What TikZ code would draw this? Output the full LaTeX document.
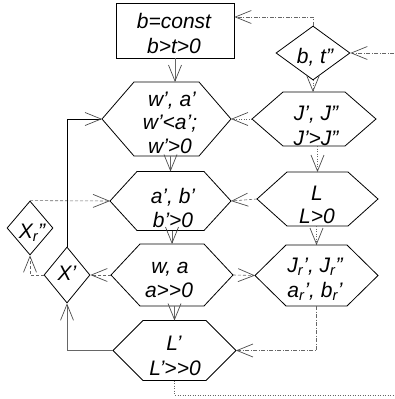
\documentclass[tikz,border=0pt]{standalone}
\usepackage{fontspec}
\setmainfont{Liberation Sans}
\usetikzlibrary{arrows.meta,calc,shapes.geometric}
\newcommand\pq{\symbol{39}}
\newcommand\dq{\symbol{34}}
\newcommand\gt{\symbol{62}}
\newcommand\sr{\textsubscript{r}}
\tikzset{
 shp/.style={draw=black, line width=0.8pt},
 dia/.style={shape=diamond, draw=black, line width=0.8pt, inner sep=0pt},
 lbl/.style={anchor=base, inner sep=0pt, font=\fontsize{21}{24}\selectfont\itshape},
 conn/.style={draw=black!60, line width=0.6pt, -{Straight Barb[length=16pt,width=13pt,line width=0.7pt,color=black!70]}},
 dashc/.style={conn, dash pattern=on 3pt off 2pt},
 dotc/.style={conn, dash pattern=on 1pt off 1.5pt},
 ddc/.style={conn, dash pattern=on 4pt off 1.5pt on 1pt off 1.5pt},
}
\newcommand\myhex[6]{%
 \draw[shp] (#2,#3) ++(-#4,0) coordinate (#1-w) -- ++(#6,-#5) -- ++({2*#4-2*#6},0) -- ++(#6,#5) coordinate (#1-e) -- ++(-#6,#5) -- ++({-2*#4+2*#6},0) -- cycle;
 \coordinate (#1-n) at (#2,#3-#5);
 \coordinate (#1-s) at (#2,#3+#5);
}
\begin{document}
\begin{tikzpicture}[x=1pt,y=-1pt]
\useasboundingbox (0,0) rectangle (394,399);
% box
\node[shp, minimum width=118pt, minimum height=55pt, inner sep=0pt] (box) at (175,30.5) {};
\node[lbl] (t1) at (174,28) {b=const};
\node[lbl] (t2) at (174,53) {b\gt t\gt 0};
% hexagons
\myhex{h1}{166.5}{119}{64.5}{37}{32}
\myhex{h2}{170.5}{201}{60.5}{29.5}{27}
\myhex{h3}{172}{275}{61}{31}{29}
\myhex{h4}{174.5}{350.5}{61.5}{30}{30}
\myhex{hj}{314}{119}{62}{27}{31}
\myhex{hl}{317.5}{199}{60.5}{27}{30}
\myhex{hr}{316.5}{275.5}{61.5}{30.5}{31}
% diamonds
\node[dia, minimum width=74pt, minimum height=54pt] (bt) at (313,53) {};
\node[dia, minimum width=46pt, minimum height=56pt] (xp) at (67,275) {};
\node[dia, minimum width=46pt, minimum height=54pt] (xr) at (30,228) {};
% texts
\node[lbl] (h1a) at (172,106) {w\pq, a\pq};
\node[lbl] (h1b) at (170,129) {w\pq<a\pq;};
\node[lbl] (h1c) at (170,153) {w\pq\gt 0};
\node[lbl] (h2a) at (173,203) {a\pq, b\pq};
\node[lbl] (h2b) at (173,227) {b\pq\gt 0};
\node[lbl] (h3a) at (170,273) {w, a};
\node[lbl] (h3b) at (169,297) {a\gt\gt 0};
\node[lbl] (h4a) at (174,350) {L\pq};
\node[lbl] (h4b) at (175,375) {L\pq\gt\gt 0};
\node[lbl] (hja) at (316,120) {J\pq, J\dq};
\node[lbl] (hjb) at (316,145) {J\pq\gt J\dq};
\node[lbl] (hla) at (317,200) {L};
\node[lbl] (hlb) at (317,223) {L\gt 0};
\node[lbl] (hra) at (315,272) {J\sr\pq, J\sr\dq};
\node[lbl] (hrb) at (315,297) {a\sr\pq, b\sr\pq};
\node[lbl] (btt) at (315,63) {b, t\dq};
\node[lbl] (xpt) at (67,280) {X\pq};
\node[lbl] (xrt) at (32,238) {X\sr\dq};
% free ends
\coordinate (rin) at (394,53);
\coordinate (rout) at (394,395);
% connectors
\draw[conn] (box.south) -- (box.south |- h1-n);
\draw[conn] (h1-s -| h2-n) -- (h2-n);
\draw[conn] (h2-s -| h3-n) -- (h3-n);
\draw[conn] (h3-s -| h4-n) -- (h4-n);
\draw[dotc] (bt.south) -- (bt.south |- hj-n);
\draw[dotc] (hj-s -| hl-n) -- (hl-n);
\draw[dotc] (hl-s -| hr-n) -- (hr-n);
\draw[ddc] (bt.north) |- ([yshift=13.5pt]box.east);
\draw[ddc] (rin) -- (bt.east);
\draw[dotc] (hj-w) -- (h1-e);
\draw[dashc] (hl-w) -- (h2-e);
\draw[dashc] (h3-e) -- (hr-w);
\draw[ddc] (hr-s) |- (h4-e);
\draw[dotc, -] (h4-s) |- (rout);
\draw[dashc] (h3-w) -- (xp.east);
\draw[dashc] (xp.west) -| (xr.south);
\draw[dashc] (xr.north) -- (h2-w);
\draw[conn, draw=black] (xp.north) |- (h1-w);
\draw[conn] (h4-w) -| (xp.south);
\end{tikzpicture}
\end{document}
